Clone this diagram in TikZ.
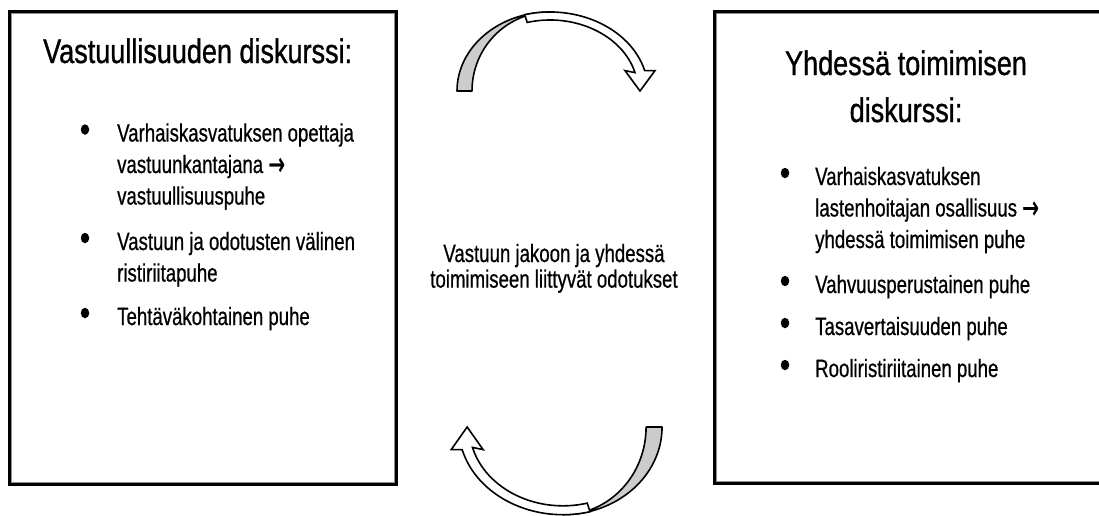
\documentclass[tikz,border=0pt]{standalone}
\usepackage{fontspec}
\setmainfont[FakeStretch=0.745,FakeBold=0.6]{Liberation Sans}
\newfontfamily\titlefont[FakeStretch=0.795,FakeBold=0.9]{Liberation Sans}
\newfontfamily\arrowfont[FakeStretch=0.62,FakeBold=0.8]{DejaVu Sans}
\usetikzlibrary{shapes.geometric}
\definecolor{backgray}{RGB}{204,204,204}
\newcommand{\leftlines}[1]{\begin{tabular}[t]{@{}l@{}}#1\end{tabular}}
\newcommand{\centerlines}[1]{\begin{tabular}[t]{@{}c@{}}#1\end{tabular}}
\newcommand{\rarr}{{\arrowfont\fontsize{32}{31.5}\selectfont\raisebox{-2pt}{→}}}
\begin{document}
\begin{tikzpicture}[x=1pt,y=1pt,
  boxline/.style={line width=3pt, draw=black},
  boxinner/.style={line width=1pt, draw=black!45},
  bodytext/.style={font=\fontsize{25}{31.5}\selectfont, inner sep=0pt, anchor=base west},
  titletext/.style={font=\titlefont\fontsize{34}{47}\selectfont, inner sep=0pt},
  midtext/.style={font=\fontsize{25}{25}\selectfont, inner sep=0pt, anchor=base},
  bul/.style={ellipse, fill=black, minimum width=8.5pt, minimum height=10.5pt, inner sep=0pt},
  arrowback/.style={fill=backgray, draw=black, line width=1.6pt, line join=round},
  arrowfront/.style={fill=white, draw=black, line width=1.6pt, line join=miter},
]
\useasboundingbox (0,0) rectangle (1099,-515);
\fill[white] (0,0) rectangle (1099,-515);

% boxes
\draw[boxline] (9.5,-11.5) rectangle (396.5,-484.5);
\draw[boxinner] (11.5,-13.5) rectangle (394.5,-482.5);
\draw[boxline] (714.5,-11.5) rectangle (1110,-483);
\draw[boxinner] (716.5,-13.5) rectangle (1110,-481);

% left box text
\node[titletext, anchor=base west] (lt) at (43,-63) {Vastuullisuuden diskurssi:};
\node[bul] (lb1) at (85,-129.5) {};
\node[bodytext] (li1) at (117,-141.5) {\leftlines{Varhaiskasvatuksen opettaja\\vastuunkantajana \rarr\\vastuullisuuspuhe}};
\node[bul] (lb2) at (85,-238) {};
\node[bodytext] (li2) at (117,-250) {\leftlines{Vastuun ja odotusten välinen\\ristiriitapuhe}};
\node[bul] (lb3) at (85,-313) {};
\node[bodytext] (li3) at (117,-325) {Tehtäväkohtainen puhe};

% right box text
\node[titletext, anchor=base] (rt) at (906,-75) {\centerlines{Yhdessä toimimisen\\diskurssi:}};
\node[bul] (rb1) at (785,-173) {};
\node[bodytext] (ri1) at (815,-185) {\leftlines{Varhaiskasvatuksen\\lastenhoitajan osallisuus \rarr\\yhdessä toimimisen puhe}};
\node[bul] (rb2) at (785,-281) {};
\node[bodytext] (ri2) at (815,-293) {Vahvuusperustainen puhe};
\node[bul] (rb3) at (785,-323) {};
\node[bodytext] (ri3) at (815,-335) {Tasavertaisuuden puhe};
\node[bul] (rb4) at (785,-365) {};
\node[bodytext] (ri4) at (815,-377) {Rooliristiriitainen puhe};

% middle text
\node[midtext] (mid) at (554,-262) {\centerlines{Vastuun jakoon ja yhdessä\\toimimiseen liittyvät odotukset}};

% top curved arrow
\begin{scope}[shift={(550,-91)}]
  \path[arrowback] (-93,0) arc[start angle=180,end angle=90,x radius=93,y radius=79]
    arc[start angle=90,end angle=180,x radius=78,y radius=79] -- cycle;
  \path[arrowfront] (105:98 and 79) arc[start angle=105,end angle=15,x radius=98,y radius=79]
    -- (105,20.4) -- (90,0) -- (75,20.4) -- (15:88 and 71)
    arc[start angle=15,end angle=105,x radius=88,y radius=71] -- cycle;
\end{scope}

% bottom curved arrow
\begin{scope}[shift={(563,-427)}, rotate=180, xscale=1.065, yscale=1.11]
  \path[arrowback] (-93,0) arc[start angle=180,end angle=90,x radius=93,y radius=79]
    arc[start angle=90,end angle=180,x radius=78,y radius=79] -- cycle;
  \path[arrowfront] (105:98 and 79) arc[start angle=105,end angle=15,x radius=98,y radius=79]
    -- (105,20.4) -- (90,0) -- (75,20.4) -- (15:88 and 71)
    arc[start angle=15,end angle=105,x radius=88,y radius=71] -- cycle;
\end{scope}
\end{tikzpicture}
\end{document}
